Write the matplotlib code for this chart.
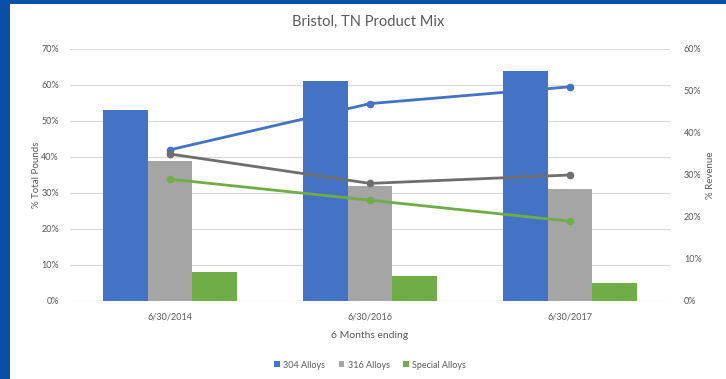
import numpy as np
import matplotlib.pyplot as plt
from matplotlib.patches import Rectangle
from matplotlib.ticker import PercentFormatter

plt.rcParams['font.family'] = ['Lato', 'DejaVu Sans']

# 6 month periods
periods = ['6/30/2014', '6/30/2016', '6/30/2017']
series = ['304 Alloys', '316 Alloys', 'Special Alloys']

# % total pounds (bars, left axis)
pounds_304 = [53, 61, 64]
pounds_316 = [39, 32, 31]
pounds_special = [8, 7, 5]

# % revenue (lines, right axis)
revenue_304 = [36, 47, 51]
revenue_316 = [35, 28, 30]
revenue_special = [29, 24, 19]

colors = ['#4472c4', '#a5a5a5', '#70ad47']
line_colors = ['#4472c4', '#6e6e6e', '#70ad47']
text_col = '#595959'

fig = plt.figure(figsize=(7.26, 3.79), dpi=100)
fig.patch.set_facecolor('#0b4ea6')
# white chart panel on the slide
fig.add_artist(Rectangle((10 / 726, 0), 1, 1 - 4 / 379, transform=fig.transFigure,
                         facecolor='white', edgecolor='none', zorder=0))

ax = fig.add_axes([70 / 726, 1 - 301 / 379, 600 / 726, 252 / 379])
ax.set_facecolor('none')
x = np.arange(len(periods))
w = 0.222
bars = []
for i, vals in enumerate([pounds_304, pounds_316, pounds_special]):
    b = ax.bar(x + (i - 1) * w, vals, w, color=colors[i], label=series[i], zorder=2)
    bars.append(b)

ax.set_xlim(-0.5, 2.5)
ax.set_ylim(0, 70)
ax.set_yticks(range(0, 71, 10))
ax.yaxis.set_major_formatter(PercentFormatter(decimals=0))
ax.set_xticks(x)
ax.set_xticklabels(periods)
ax.grid(axis='y', color='#d9d9d9', linewidth=0.9, zorder=0)
ax.set_axisbelow(True)
for s in ax.spines.values():
    s.set_visible(False)
ax.tick_params(length=0, colors=text_col, labelsize=6.5, pad=8)
ax.tick_params(axis='x', pad=8)
ax.set_ylabel('% Total Pounds', color=text_col, fontsize=7, labelpad=0)
ax.set_xlabel('6 Months ending', color=text_col, fontsize=7.5, labelpad=7)

ax2 = ax.twinx()
for i, vals in enumerate([revenue_304, revenue_316, revenue_special]):
    ax2.plot(x, vals, color=line_colors[i], linewidth=2, marker='o', markersize=4.5, zorder=3)
ax2.set_ylim(0, 60)
ax2.set_yticks(range(0, 61, 10))
ax2.yaxis.set_major_formatter(PercentFormatter(decimals=0))
for s in ax2.spines.values():
    s.set_visible(False)
ax2.tick_params(length=0, colors=text_col, labelsize=6.5, pad=10)
ax2.set_ylabel('% Revenue', color=text_col, fontsize=7, labelpad=3)

fig.text(0.507, 1 - 22 / 379, 'Bristol, TN Product Mix', ha='center', va='center',
         color=text_col, fontsize=10.5)

fig.legend(handles=bars, labels=series, loc='center', bbox_to_anchor=(0.51, 1 - 365 / 379),
           ncol=3, frameon=False, fontsize=6.5, handlelength=0.6, handleheight=0.6,
           handletextpad=0.4, columnspacing=1.5, labelcolor=text_col)

fig.savefig('out.png', dpi=100)
